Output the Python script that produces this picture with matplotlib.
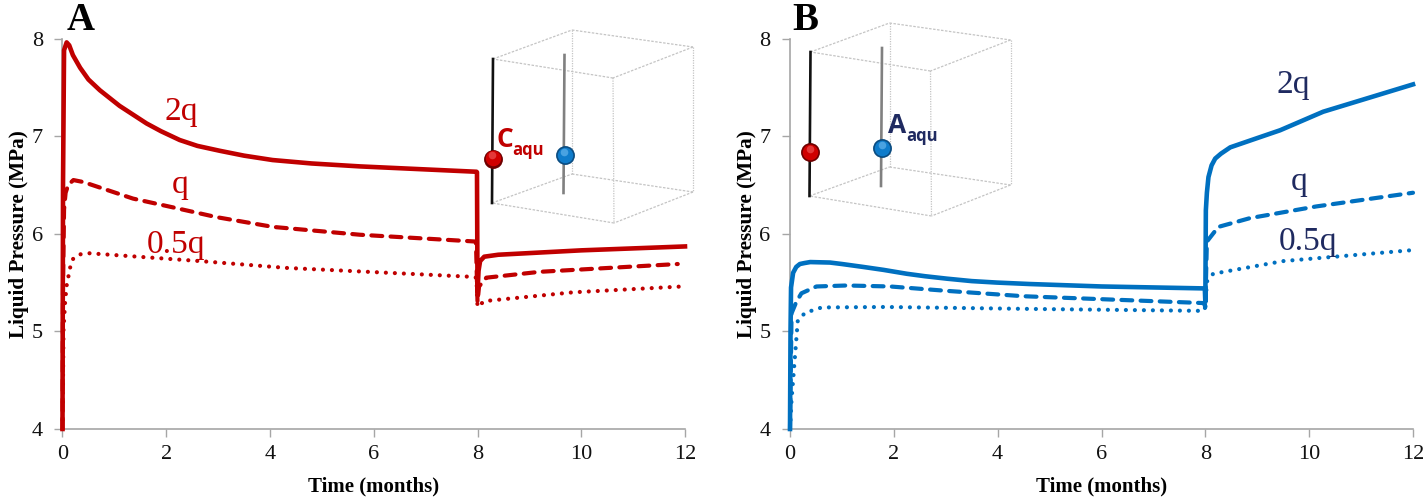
import matplotlib
matplotlib.use('Agg')
import matplotlib.pyplot as plt

plt.rcParams['font.family'] = ['Liberation Serif', 'DejaVu Serif']

# panel A
a_2q_t = [0, 0.01, 0.03, 0.08, 0.13, 0.2, 0.34, 0.5, 0.72, 1.1, 1.62, 1.9, 2.26, 2.6, 3.03, 3.5, 4.05, 4.8, 5.73, 7.98, 7.99, 8.0, 8.02, 8.05, 8.13, 8.4, 10, 12]
a_2q_p = [4, 6.5, 7.88, 7.96, 7.93, 7.83, 7.70, 7.58, 7.47, 7.31, 7.13, 7.05, 6.96, 6.90, 6.85, 6.80, 6.755, 6.72, 6.69, 6.635, 6.63, 5.4, 5.62, 5.72, 5.765, 5.785, 5.83, 5.87]
a_q_t = [0, 0.01, 0.03, 0.06, 0.11, 0.21, 0.4, 1.36, 2.13, 2.97, 4.06, 5.73, 7.97, 8.0, 8.03, 8.17, 9.2, 11.86]
a_q_p = [4, 5.5, 6.25, 6.42, 6.5, 6.55, 6.53, 6.36, 6.27, 6.17, 6.07, 5.99, 5.92, 5.3, 5.46, 5.55, 5.61, 5.69]
a_h_t = [0, 0.02, 0.05, 0.08, 0.15, 0.21, 0.35, 0.52, 2.65, 4.32, 7.85, 7.98, 8.0, 8.13, 9.84, 11.95]
a_h_p = [4, 5.02, 5.3, 5.47, 5.66, 5.75, 5.79, 5.80, 5.72, 5.65, 5.56, 5.55, 5.25, 5.31, 5.40, 5.46]

# panel B
b_2q_t = [0, 0.01, 0.02, 0.06, 0.12, 0.19, 0.28, 0.39, 0.77, 1.0, 1.41, 1.8, 2.25, 2.6, 3.02, 3.5, 3.98, 4.62, 6, 7.99, 8.0, 8.01, 8.03, 8.06, 8.12, 8.19, 8.3, 8.48, 9.0, 9.44, 10.27, 12]
b_2q_p = [4, 5.0, 5.45, 5.6, 5.66, 5.69, 5.70, 5.71, 5.705, 5.69, 5.66, 5.63, 5.59, 5.565, 5.54, 5.515, 5.50, 5.485, 5.46, 5.44, 5.3, 6.24, 6.42, 6.58, 6.7, 6.77, 6.82, 6.885, 6.98, 7.06, 7.25, 7.53]
b_q_t = [0, 0.03, 0.12, 0.22, 0.51, 1.09, 1.93, 3.02, 4.5, 7.97, 8.0, 8.03, 8.25, 8.86, 10.14, 12]
b_q_p = [4, 5.185, 5.30, 5.39, 5.46, 5.47, 5.46, 5.415, 5.36, 5.29, 5.25, 5.92, 6.07, 6.16, 6.28, 6.42]
b_h_t = [0, 0.03, 0.07, 0.11, 0.15, 0.29, 0.61, 1.83, 4.62, 7.97, 8.0, 8.03, 8.15, 9.5, 11.94]
b_h_p = [4, 4.30, 4.57, 4.84, 5.11, 5.19, 5.245, 5.25, 5.23, 5.21, 5.25, 5.51, 5.59, 5.72, 5.83]

x_ticks = [0, 2, 4, 6, 8, 10, 12]
y_ticks = [4, 5, 6, 7, 8]
red = '#C00000'
blue = '#0070C0'
navy = '#1F2A60'
W, H = 1428, 500

fig = plt.figure(figsize=(W / 100, H / 100), dpi=100)


def make_axes(x0, x1, y_top, y_bot):
    ax = fig.add_axes([x0 / W, 1 - y_bot / H, (x1 - x0) / W, (y_bot - y_top) / H])
    ax.set_xlim(0, 12)
    ax.set_ylim(4, 8)
    ax.set_xticks(x_ticks)
    ax.set_yticks(y_ticks)
    ax.spines[['top', 'right']].set_visible(False)
    ax.spines[['left', 'bottom']].set_color('#A6A6A6')
    ax.spines[['left', 'bottom']].set_linewidth(1.2)
    ax.tick_params(axis='both', length=5.5, width=1, color='#A6A6A6', labelsize=16, labelcolor='#111111')
    ax.tick_params(axis='x', pad=6)
    ax.tick_params(axis='y', pad=8.5)
    ax.set_xlabel('Time (months)', fontsize=15, fontweight='bold', labelpad=9)
    ax.set_ylabel('Liquid Pressure (MPa)', fontsize=15.3, fontweight='bold', labelpad=2)
    return ax


def draw_lines(ax, color, t2, p2, t1, p1, th, ph):
    ax.plot(th, ph, color=color, lw=3.0, ls=(0, (0.01, 2.15)), dash_capstyle='round', clip_on=False, zorder=3)
    ax.plot(t1, p1, color=color, lw=3.0, ls=(0, (2.6, 2.0)), dash_capstyle='round', clip_on=False, zorder=3)
    ax.plot(t2, p2, color=color, lw=3.3, solid_joinstyle='round', clip_on=False, zorder=3)


ax_a = make_axes(62.5, 685, 38.5, 429)
ax_b = make_axes(790, 1413, 38.5, 429)
draw_lines(ax_a, red, a_2q_t, a_2q_p, a_q_t, a_q_p, a_h_t, a_h_p)
draw_lines(ax_b, blue, b_2q_t, b_2q_p, b_q_t, b_q_p, b_h_t, b_h_p)

# overlay in pixel coordinates for the cube sketches and the labels
ov = fig.add_axes([0, 0, 1, 1])
ov.set_xlim(0, W)
ov.set_ylim(H, 0)
ov.axis('off')
ov.patch.set_alpha(0)


def cube(dx, dy):
    # corners: front-left top/bottom, back-left, back-right, front-right
    top = [(493, 59), (572, 30), (693, 47), (613, 78)]
    bot = [(492, 203), (572, 174), (693, 192), (614, 223)]
    for i in range(4):
        j = (i + 1) % 4
        ov.plot([top[i][0] + dx, top[j][0] + dx], [top[i][1] + dy, top[j][1] + dy], color='#C4C4C4', lw=0.9, ls=(0, (2, 1.2)))
        ov.plot([bot[i][0] + dx, bot[j][0] + dx], [bot[i][1] + dy, bot[j][1] + dy], color='#C4C4C4', lw=0.9, ls=(0, (2, 1.2)))
        ov.plot([top[i][0] + dx, bot[i][0] + dx], [top[i][1] + dy, bot[i][1] + dy], color='#C4C4C4', lw=0.9, ls=(0, (1, 1)))
    ov.plot([493 + dx, 492 + dx], [59 + dy, 203 + dy], color='#111111', lw=1.9)
    ov.plot([564.5 + dx, 563.5 + dx], [55 + dy, 193 + dy], color='#808080', lw=1.9)


def sphere(x, y, dark, mid, light):
    ov.scatter([x], [y], s=185, color=dark, zorder=5, linewidths=0)
    ov.scatter([x], [y - 0.5], s=125, color=mid, zorder=6, linewidths=0)
    ov.scatter([x - 0.5], [y - 3.5], s=30, color=light, alpha=0.6, zorder=7, linewidths=0)


cube(0, 0)
cube(317.5, -7)
sphere(492.7, 158.7, '#6E0000', '#D00000', '#F06060')
sphere(564.7, 155, '#0B4C80', '#0F7CCB', '#70BDF0')
sphere(810, 152, '#6E0000', '#D00000', '#F06060')
sphere(882, 148, '#0B4C80', '#0F7CCB', '#70BDF0')

sans = ['Open Sans', 'DejaVu Sans']
ov.text(496, 147, 'C', color=red, fontsize=19, fontweight='bold', family=sans, va='baseline')
ov.text(512, 155, 'aqu', color=red, fontsize=12, fontweight='bold', family=sans, va='baseline')
ov.text(888, 133, 'A', color=navy, fontsize=19, fontweight='bold', family=sans, va='baseline')
ov.text(906, 141, 'aqu', color=navy, fontsize=12, fontweight='bold', family=sans, va='baseline')

ov.text(67, 30, 'A', fontsize=28, fontweight='bold', color='black', va='baseline')
ov.text(792, 30, 'B', fontsize=28, fontweight='bold', color='black', va='baseline')

ann_size = 24
ov.text(165, 120, '2q', color=red, fontsize=ann_size, va='baseline')
ov.text(172, 193, 'q', color=red, fontsize=ann_size, va='baseline')
ov.text(147, 253, '0.5q', color=red, fontsize=ann_size, va='baseline')
ov.text(1277, 93, '2q', color=navy, fontsize=ann_size, va='baseline')
ov.text(1291, 190, 'q', color=navy, fontsize=ann_size, va='baseline')
ov.text(1279, 250, '0.5q', color=navy, fontsize=ann_size, va='baseline')

fig.savefig('out.png', dpi=100)
